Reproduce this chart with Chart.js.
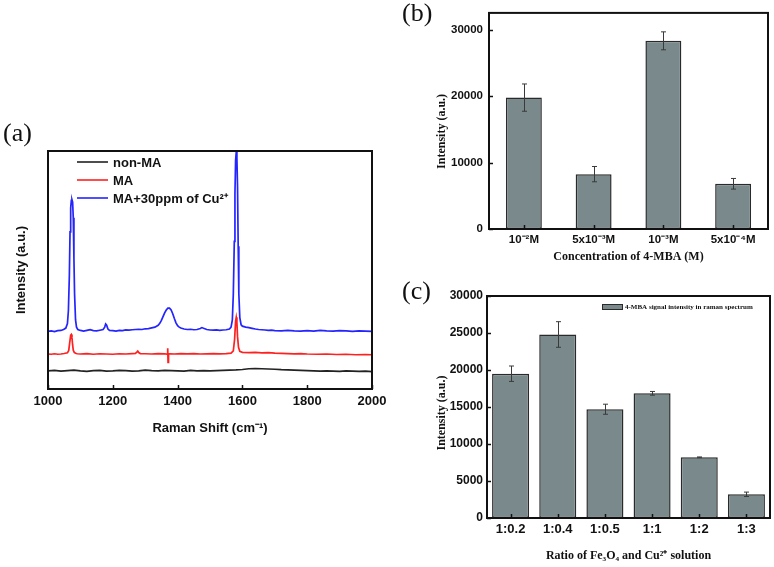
<!DOCTYPE html>
<html><head><meta charset="utf-8">
<script src="https://cdn.jsdelivr.net/npm/chart.js@4"></script>
<style>
html,body{margin:0;padding:0;background:#fff;}
#wrap{position:relative;width:774px;height:567px;overflow:hidden;background:#fff;}
canvas{position:absolute;left:0;top:0;}
</style></head><body>
<div id="wrap">
<canvas id="ca" width="774" height="567"></canvas>
<canvas id="cb" width="774" height="567"></canvas>
<canvas id="cc" width="774" height="567"></canvas>
</div>
<script>
// ---------- Panel (a): Raman spectra ----------
const seriesNames = ['non-MA', 'MA', 'MA+30ppm of Cu²⁺'];
const xTicksA = [1000, 1200, 1400, 1600, 1800, 2000];

const blackX = [1000,1020,1040,1060,1080,1100,1120,1140,1160,1180,1200,1220,1240,1260,1280,1300,1320,1340,1360,1380,1400,1420,1440,1460,1480,1500,1520,1540,1560,1580,1600,1620,1640,1660,1680,1700,1720,1740,1760,1780,1800,1820,1840,1860,1880,1900,1920,1940,1960,1980,2000];
const blackY = [7.6,7.8,7.5,7.7,7.9,7.6,7.4,7.7,7.8,7.5,7.6,7.8,7.7,7.5,7.6,7.9,7.7,7.6,7.8,7.7,7.6,7.5,7.8,7.6,7.7,7.6,7.7,7.8,7.9,8.0,8.2,8.5,8.6,8.5,8.4,8.3,8.1,8.0,7.9,7.8,7.7,7.6,7.5,7.6,7.5,7.4,7.6,7.5,7.4,7.5,7.3];

const redX = [1000,1010,1020,1030,1040,1050,1060,1064,1067,1070,1072,1074,1076,1078,1081,1085,1090,1100,1120,1140,1160,1180,1200,1220,1240,1260,1270,1274,1277,1280,1285,1300,1320,1340,1360,1366,1368,1369.5,1370.5,1372,1376,1390,1410,1430,1450,1470,1490,1510,1530,1550,1565,1572,1576,1579,1581,1583,1585,1588,1592,1600,1620,1640,1660,1680,1700,1720,1740,1760,1780,1800,1830,1860,1890,1920,1950,1980,2000];
const redY = [14.7,14.6,14.8,14.6,14.7,14.9,15.2,16.2,19.5,22.6,22.9,21.5,18.5,16.3,15.4,15.0,14.8,14.7,14.9,14.6,14.8,14.7,14.6,14.8,14.7,14.9,15.0,15.5,15.9,15.3,14.9,14.8,14.7,14.9,14.8,14.7,14.8,17.1,11.2,14.7,14.8,14.7,14.9,14.8,14.9,14.7,14.8,14.9,14.8,14.9,15.1,16.0,21.0,28.5,30.1,28.0,22.0,17.5,15.8,15.4,15.3,15.4,15.2,15.3,15.1,15.0,14.9,14.8,14.9,14.7,14.6,14.7,14.5,14.6,14.4,14.5,14.4];

const blueX = [1000,1010,1020,1030,1040,1048,1055,1060,1063,1066,1068,1070,1072,1074,1076,1078,1080,1082,1085,1088,1092,1100,1110,1120,1130,1140,1150,1160,1170,1175,1178,1181,1185,1190,1200,1210,1220,1230,1240,1250,1260,1270,1280,1290,1300,1310,1320,1330,1340,1345,1350,1355,1360,1365,1370,1375,1380,1385,1390,1395,1400,1405,1410,1420,1430,1440,1450,1460,1470,1475,1480,1490,1500,1510,1520,1530,1540,1550,1560,1565,1569,1572,1575,1577,1579,1581,1583,1585,1587,1589,1592,1596,1600,1610,1620,1630,1640,1650,1660,1670,1680,1690,1700,1720,1740,1760,1780,1800,1820,1840,1860,1880,1900,1920,1940,1960,1980,2000];
const blueY = [24.2,24.4,24.1,24.5,24.6,25.0,25.6,27.5,33,48,66,76,79.3,79.5,78.5,72,55,40,29,26,25.0,24.6,24.3,24.6,24.9,24.5,24.4,24.7,25.0,26.0,27.3,26.8,25.2,24.6,24.5,24.3,24.6,24.5,24.8,24.7,24.9,25.0,25.1,25.0,25.3,25.4,25.7,26.0,26.8,27.6,28.8,30.4,32.0,33.2,34.0,34.0,33.2,31.6,29.6,27.8,26.6,26.0,25.6,25.2,25.0,25.1,24.9,25.0,25.4,25.8,25.5,25.0,24.8,24.7,24.8,24.6,24.8,24.9,25.2,26.0,29,40,62,82,96,99.6,97,85,60,40,30,27.0,26.4,26.0,25.8,25.5,25.2,25.0,24.9,24.8,24.6,24.7,24.5,24.4,24.6,24.4,24.3,24.5,24.3,24.6,24.4,24.3,24.5,24.4,24.2,24.4,24.3,24.2];

// ---------- Panel (b) ----------
const concLabels = ['10⁻²M', '5x10⁻³M', '10⁻³M', '5x10⁻⁴M'];
const concValues = [19760, 8250, 28300, 6800];
const concErrors = [2050, 1150, 1350, 800];
const yTicksB = [0, 10000, 20000, 30000];

// ---------- Panel (c) ----------
const ratioLabels = ['1:0.2', '1:0.4', '1:0.5', '1:1', '1:2', '1:3'];
const ratioValues = [19500, 24800, 14700, 16850, 8200, 3200];
const ratioErrors = [1040, 1730, 680, 250, 50, 300];
const ratioLegend = '4-MBA signal intensity in raman spectrum';
const yTicksC = [0, 5000, 10000, 15000, 20000, 25000, 30000];

const SANS = "'Liberation Sans', Arial, sans-serif";
const SERIF = "'Liberation Serif', 'Times New Roman', serif";
const BAR = 'rgb(122,138,140)';
const EDGE = '#2a2a2a';
const plain = v => String(v);

function framePlugin(id, o) {
  return {
    id: id,
    afterDraw(chart) {
      const {ctx, chartArea: a, scales} = chart;
      ctx.save();
      ctx.strokeStyle = '#111';
      ctx.lineWidth = 1.5;
      if (o.xTicks) {
        const s = scales.x;
        s.ticks.forEach((t, i) => {
          const px = Math.round(s.getPixelForTick(i)) + 0.5;
          ctx.beginPath(); ctx.moveTo(px, a.bottom); ctx.lineTo(px, a.bottom - o.len); ctx.stroke();
        });
      }
      if (o.yTicks) {
        const s = scales.y;
        s.ticks.forEach((t, i) => {
          const py = Math.round(s.getPixelForTick(i)) + 0.5;
          ctx.beginPath(); ctx.moveTo(a.left, py); ctx.lineTo(a.left + o.len, py); ctx.stroke();
        });
      }
      ctx.lineWidth = 2;
      ctx.strokeRect(a.left, a.top, a.right - a.left, a.bottom - a.top);
      ctx.fillStyle = '#111';
      ctx.font = '26px ' + SERIF;
      ctx.textBaseline = 'middle';
      ctx.textAlign = 'left';
      ctx.fillText(o.letter, o.lx, o.ly);
      ctx.restore();
    }
  };
}

function errorPlugin(id, values, errors) {
  return {
    id: id,
    afterDatasetsDraw(chart) {
      const {ctx} = chart;
      const ys = chart.scales.y;
      const meta = chart.getDatasetMeta(0);
      ctx.save();
      ctx.strokeStyle = '#3a3a3a';
      ctx.lineWidth = 1;
      meta.data.forEach((el, i) => {
        const x = Math.round(el.x) + 0.5;
        const yt = ys.getPixelForValue(values[i] + errors[i]);
        const yb = ys.getPixelForValue(values[i] - errors[i]);
        ctx.beginPath();
        ctx.moveTo(x, yt); ctx.lineTo(x, yb);
        ctx.moveTo(x - 2.5, yt); ctx.lineTo(x + 2.5, yt);
        ctx.moveTo(x - 2.5, yb); ctx.lineTo(x + 2.5, yb);
        ctx.stroke();
      });
      ctx.restore();
    }
  };
}

const legendA = {
  id: 'legendA',
  afterDraw(chart) {
    const {ctx, chartArea: a} = chart;
    ctx.save();
    ctx.font = 'bold 13px ' + SANS;
    ctx.textBaseline = 'middle';
    ctx.textAlign = 'left';
    chart.data.datasets.forEach((ds, i) => {
      const y = a.top + 11 + i * 18;
      ctx.strokeStyle = ds.borderColor;
      ctx.lineWidth = 1.6;
      ctx.beginPath(); ctx.moveTo(a.left + 29, y); ctx.lineTo(a.left + 60, y); ctx.stroke();
      ctx.fillStyle = '#111';
      ctx.fillText(ds.label, a.left + 65, y + 1);
    });
    ctx.restore();
  }
};

const legendC = {
  id: 'legendC',
  afterDraw(chart) {
    const {ctx, chartArea: a} = chart;
    const ds = chart.data.datasets[0];
    ctx.save();
    const bx = a.right - 168, by = a.top + 8;
    ctx.fillStyle = BAR; ctx.strokeStyle = EDGE; ctx.lineWidth = 1;
    ctx.fillRect(bx, by, 20, 5); ctx.strokeRect(bx + 0.5, by + 0.5, 20, 5);
    ctx.fillStyle = '#111';
    ctx.font = 'bold 7px ' + SERIF;
    ctx.textBaseline = 'middle';
    ctx.fillText(ds.label, bx + 23, by + 3);
    ctx.restore();
  }
};

Chart.defaults.color = '#111';

// Panel (a)
new Chart(document.getElementById('ca'), {
  type: 'line',
  data: {
    datasets: [
      {label: seriesNames[0], data: blackX.map((x, i) => ({x: x, y: blackY[i]})), borderColor: '#222222'},
      {label: seriesNames[1], data: redX.map((x, i) => ({x: x, y: redY[i]})), borderColor: '#ff2020'},
      {label: seriesNames[2], data: blueX.map((x, i) => ({x: x, y: blueY[i]})), borderColor: '#2424ff'}
    ].map(d => Object.assign(d, {borderWidth: 1.7, pointRadius: 0, tension: 0, fill: false}))
  },
  options: {
    responsive: false, animation: false, devicePixelRatio: 1,
    layout: {padding: {left: 8, top: 151, right: 402, bottom: 131}},
    plugins: {legend: {display: false}, tooltip: {enabled: false}},
    scales: {
      x: {
        type: 'linear', min: 1000, max: 2000,
        afterBuildTicks: s => { s.ticks = xTicksA.map(v => ({value: v})); },
        afterFit: s => { s.height = 47; },
        grid: {display: false, drawTicks: false}, border: {display: false},
        ticks: {padding: 5, callback: plain, font: {family: SANS, weight: 'bold', size: 13}, color: '#111'},
        title: {display: true, text: 'Raman Shift (cm⁻¹)', font: {family: SANS, weight: 'bold', size: 13}, color: '#111', padding: {top: 0, bottom: 0}}
      },
      y: {
        min: 0, max: 100,
        afterFit: s => { s.width = 40; },
        grid: {display: false, drawTicks: false}, border: {display: false},
        ticks: {display: false},
        title: {display: true, text: 'Intensity (a.u.)', font: {family: SANS, weight: 'bold', size: 13}, color: '#111', padding: {top: 6, bottom: 0}}
      }
    }
  },
  plugins: [framePlugin('frameA', {xTicks: true, yTicks: false, len: 4, letter: '(a)', lx: 3, ly: 134}), legendA]
});

// Panel (b)
new Chart(document.getElementById('cb'), {
  type: 'bar',
  data: {
    labels: concLabels,
    datasets: [{label: 'Intensity', data: concValues, backgroundColor: BAR, borderColor: EDGE, borderWidth: 1.5, borderSkipped: false, categoryPercentage: 1, barPercentage: 0.515}]
  },
  options: {
    responsive: false, animation: false, devicePixelRatio: 1,
    layout: {padding: {left: 430, top: 3, right: 6, bottom: 302}},
    plugins: {legend: {display: false}, tooltip: {enabled: false}},
    scales: {
      x: {
        afterFit: s => { s.height = 36; },
        grid: {display: false, drawTicks: false}, border: {display: false},
        ticks: {padding: 4, font: {family: SANS, weight: 'bold', size: 11.5}, color: '#111'},
        title: {display: true, text: 'Concentration of 4-MBA (M)', font: {family: SERIF, weight: 'bold', size: 12}, color: '#111', padding: {top: 0, bottom: 1}}
      },
      y: {
        min: 0, max: 32500,
        afterBuildTicks: s => { s.ticks = yTicksB.map(v => ({value: v})); },
        afterFit: s => { s.width = 59; },
        grid: {display: false, drawTicks: false}, border: {display: false},
        ticks: {padding: 6, callback: plain, font: {family: SANS, weight: 'bold', size: 11.5}, color: '#111'},
        title: {display: true, text: 'Intensity (a.u.)       ', font: {family: SERIF, weight: 'bold', size: 12}, color: '#111', padding: {top: 5, bottom: 0}}
      }
    }
  },
  plugins: [errorPlugin('errB', concValues, concErrors), framePlugin('frameB', {xTicks: true, yTicks: true, len: 4, letter: '(b)', lx: 402, ly: 14})]
});

// Panel (c)
new Chart(document.getElementById('cc'), {
  type: 'bar',
  data: {
    labels: ratioLabels,
    datasets: [{label: ratioLegend, data: ratioValues, backgroundColor: BAR, borderColor: EDGE, borderWidth: 1.5, borderSkipped: false, categoryPercentage: 1, barPercentage: 0.785}]
  },
  options: {
    responsive: false, animation: false, devicePixelRatio: 1,
    layout: {padding: {left: 430, top: 296, right: 4, bottom: 0}},
    plugins: {legend: {display: false}, tooltip: {enabled: false}},
    scales: {
      x: {
        afterFit: s => { s.height = 49; },
        grid: {display: false, drawTicks: false}, border: {display: false},
        ticks: {padding: 4, font: {family: SANS, weight: 'bold', size: 13}, color: '#111'},
        title: {display: true, text: 'Ratio of Fe₃O₄ and Cu²⁺ solution', font: {family: SERIF, weight: 'bold', size: 12}, color: '#111', padding: {top: 0, bottom: 4}}
      },
      y: {
        min: 0, max: 30000,
        afterBuildTicks: s => { s.ticks = yTicksC.map(v => ({value: v})); },
        afterFit: s => { s.width = 57; },
        grid: {display: false, drawTicks: false}, border: {display: false},
        ticks: {padding: 4, callback: plain, font: {family: SANS, weight: 'bold', size: 12}, color: '#111'},
        title: {display: true, text: 'Intensity (a.u.)    ', font: {family: SERIF, weight: 'bold', size: 12}, color: '#111', padding: {top: 5, bottom: 0}}
      }
    }
  },
  plugins: [errorPlugin('errC', ratioValues, ratioErrors), framePlugin('frameC', {xTicks: true, yTicks: true, len: 4, letter: '(c)', lx: 402, ly: 292}), legendC]
});
</script>
</body></html>
